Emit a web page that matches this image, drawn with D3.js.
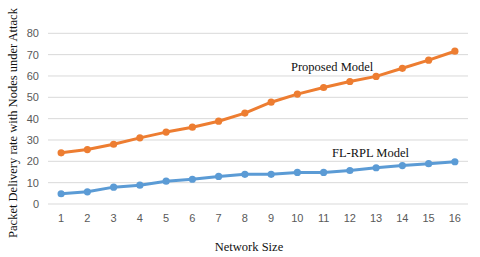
<!DOCTYPE html>
<html><head><meta charset="utf-8">
<script src="https://cdn.jsdelivr.net/npm/d3@7"></script>
<style>body{margin:0;background:#fff}svg{display:block}</style>
</head><body>
<svg id="c" width="480" height="257"></svg>
<script>
const categories = [1,2,3,4,5,6,7,8,9,10,11,12,13,14,15,16];
const proposed = [24,25.5,28,31,33.7,36,38.8,42.6,47.7,51.5,54.6,57.4,59.8,63.6,67.4,71.6];
const flrpl = [4.8,5.7,7.9,8.8,10.7,11.6,12.9,13.9,13.9,14.8,14.8,15.7,17,18,18.9,19.8];
const yTicks = [0,10,20,30,40,50,60,70,80];

const svg = d3.select("#c");
const x = d3.scaleBand().domain(categories).range([48,468]);
const y = d3.scaleLinear().domain([0,80]).range([204,33.3]);

svg.append("g").selectAll("line").data(yTicks).join("line")
  .attr("x1",48).attr("x2",468).attr("y1",d=>y(d)).attr("y2",d=>y(d))
  .attr("stroke","#d9d9d9").attr("stroke-width",1);

svg.append("g").selectAll("text").data(yTicks).join("text")
  .attr("x",39).attr("y",d=>y(d)+4).attr("text-anchor","end")
  .attr("font-family","Liberation Sans, Arial, sans-serif").attr("font-size",11)
  .attr("fill","#595959").text(d=>d);

svg.append("g").selectAll("text").data(categories).join("text")
  .attr("x",d=>x(d)+x.bandwidth()/2).attr("y",222).attr("text-anchor","middle")
  .attr("font-family","Liberation Sans, Arial, sans-serif").attr("font-size",11)
  .attr("fill","#595959").text(d=>d);

const cx = d=>x(d)+x.bandwidth()/2;
function series(vals,color){
  const data = categories.map((c,i)=>[c,vals[i]]);
  svg.append("path").datum(data)
    .attr("fill","none").attr("stroke",color).attr("stroke-width",3)
    .attr("stroke-linejoin","round")
    .attr("d",d3.line().x(d=>cx(d[0])).y(d=>y(d[1])));
  svg.append("g").selectAll("circle").data(data).join("circle")
    .attr("cx",d=>cx(d[0])).attr("cy",d=>y(d[1])).attr("r",3.6).attr("fill",color);
}
series(flrpl,"#5B9BD5");
series(proposed,"#ED7D31");

svg.append("text").attr("x",291).attr("y",71)
  .attr("font-family","Liberation Serif, Times New Roman, serif").attr("font-size",12.5)
  .attr("fill","#111").text("Proposed Model");
svg.append("text").attr("x",332).attr("y",157)
  .attr("font-family","Liberation Serif, Times New Roman, serif").attr("font-size",12.5)
  .attr("fill","#111").text("FL-RPL Model");

svg.append("text").attr("x",249).attr("y",251).attr("text-anchor","middle")
  .attr("font-family","Liberation Serif, Times New Roman, serif").attr("font-size",12.5)
  .attr("fill","#111").text("Network Size");

svg.append("text").attr("transform","translate(17,123) rotate(-90)").attr("text-anchor","middle")
  .attr("font-family","Liberation Serif, Times New Roman, serif").attr("font-size",12.5)
  .attr("fill","#111").text("Packet Delivery rate with Nodes under Attack");
</script>
</body></html>
